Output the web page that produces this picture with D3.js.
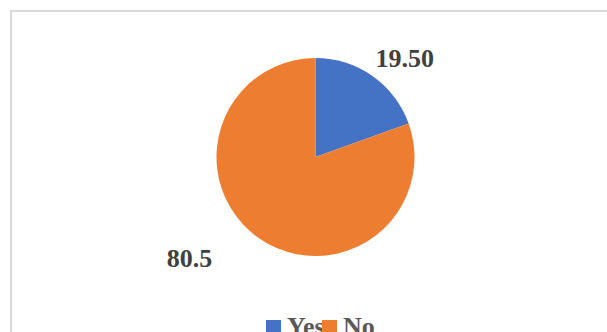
<!DOCTYPE html>
<html>
<head>
<meta charset="utf-8">
<script src="https://cdn.jsdelivr.net/npm/d3@7"></script>
<style>
  html, body { margin: 0; padding: 0; background: #fff; overflow: hidden; }
  svg { display: block; }
</style>
</head>
<body>
<svg id="chart" width="607" height="332"></svg>
<script>
// Survey answers and their shares (percent)
const categories = ["Yes", "No"];
const values = [19.5, 80.5];
const valueLabels = ["19.50", "80.5"];
const colors = ["#4472C4", "#ED7D31"];

const W = 607, H = 332;
const cx = 315.5, cy = 157, radius = 99;
const fontFamily = "'Liberation Serif', 'Times New Roman', serif";

const svg = d3.select("#chart");

// Chart-area frame (runs off the right and bottom edges)
svg.append("rect")
  .attr("x", 11).attr("y", 11)
  .attr("width", W).attr("height", H)
  .attr("fill", "#fff")
  .attr("stroke", "#d9d9d9")
  .attr("stroke-width", 2);

const pie = d3.pie().sort(null).value(d => d.value);
const data = categories.map((c, i) => ({ cat: c, value: values[i], label: valueLabels[i], color: colors[i] }));
const arcs = pie(data);

const arc = d3.arc().innerRadius(0).outerRadius(radius);

const g = svg.append("g").attr("transform", `translate(${cx},${cy})`);

g.selectAll("path.slice")
  .data(arcs)
  .enter().append("path")
  .attr("class", "slice")
  .attr("d", arc)
  .attr("fill", d => d.data.color);

// Data labels sit outside the pie; each has a radius and an angular nudge
const labelPlacement = [
  { r: 133, dAngle: 7 },
  { r: 162, dAngle: 16 }
];

g.selectAll("text.val")
  .data(arcs)
  .enter().append("text")
  .attr("class", "val")
  .attr("x", (d, i) => {
    const a = (d.startAngle + d.endAngle) / 2 + labelPlacement[i].dAngle * Math.PI / 180;
    return Math.sin(a) * labelPlacement[i].r;
  })
  .attr("y", (d, i) => {
    const a = (d.startAngle + d.endAngle) / 2 + labelPlacement[i].dAngle * Math.PI / 180;
    return -Math.cos(a) * labelPlacement[i].r;
  })
  .attr("text-anchor", "middle")
  .attr("dominant-baseline", "central")
  .attr("font-family", fontFamily)
  .attr("font-weight", "bold")
  .attr("font-size", 26)
  .attr("fill", "#404040")
  .text(d => d.data.label);

// Legend along the bottom
const legend = svg.append("g").attr("transform", "translate(266,320)");
const sw = 15;
const itemX = [0, 56];
const items = legend.selectAll("g.item")
  .data(data)
  .enter().append("g")
  .attr("class", "item")
  .attr("transform", (d, i) => `translate(${itemX[i]},0)`);

items.append("rect")
  .attr("width", sw).attr("height", sw)
  .attr("fill", d => d.color);

items.append("text")
  .attr("x", sw + 6)
  .attr("y", 15)
  .attr("font-family", fontFamily)
  .attr("font-weight", "bold")
  .attr("font-size", 26)
  .attr("fill", "#595959")
  .text(d => d.cat);

// Second swatch overlaps the tail of the first label
items.filter((d, i) => i > 0).raise();
</script>
</body>
</html>
